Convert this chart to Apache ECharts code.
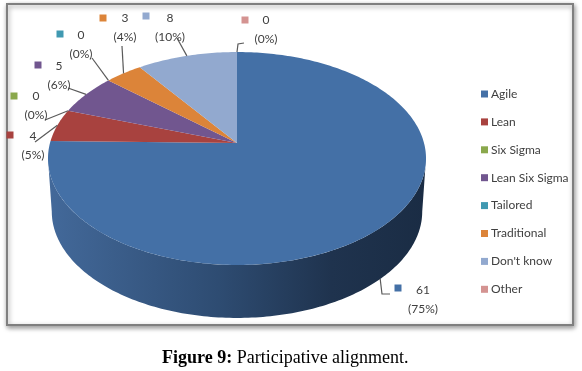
<!DOCTYPE html>
<html>
<head>
<meta charset="utf-8">
<style>
  html, body { margin: 0; padding: 0; background: #fff; }
  #main { width: 582px; height: 371px; filter: blur(0.35px); }
</style>
<script src="https://cdn.jsdelivr.net/npm/echarts@6/dist/echarts.min.js"></script>
</head>
<body>
<div id="main"></div>
<script>
// chart data
var categories = ['Agile', 'Lean', 'Six Sigma', 'Lean Six Sigma', 'Tailored', 'Traditional', "Don't know", 'Other'];
var values = [61, 4, 0, 5, 0, 3, 8, 0];
var colors = ['#4470A6', '#A8423F', '#8AA84C', '#71568F', '#4099B1', '#DC8439', '#92A9CF', '#D49391'];
var captionBold = 'Figure 9:';
var captionText = 'Participative alignment.';

// where each data label sits: [legend square x, y, text centre x, first line y]
var labelSpots = [
  [398, 288, 423, 290],
  [10, 135, 33, 136],
  [14, 96, 36, 96],
  [38, 65, 59, 66],
  [60, 34, 81, 35],
  [103, 18, 125, 18],
  [146, 16, 170, 18],
  [245, 20, 266, 20]
];
// leader line, after leaving the pie edge
var leaderEnds = [
  [[382, 294], [390, 294]],
  [[35, 142]],
  [[45, 120]],
  [[68, 88]],
  [[92, 58]],
  [[122, 46]],
  [[177, 38]],
  [[238, 44], [244, 43]]
];

// perspective of the tilted pie, image of the centre is not the ellipse centre
var pie = { x: 237, y: 143, a: 187, c: 104.2, b: 0.1455, depth: 53, shrink: 0.98 };

var total = 0;
for (var i = 0; i < values.length; i++) total += values[i];

// angle is clockwise from 12 o'clock, in degrees
function topPoint(deg) {
  var t = deg * Math.PI / 180;
  var u = Math.sin(t), v = Math.cos(t);
  var d = 1 + pie.b * v;
  return [pie.x + pie.a * u / d, pie.y - pie.c * v / d];
}
function bottomPoint(deg) {
  var p = topPoint(deg);
  return [pie.x + (p[0] - pie.x) * pie.shrink, p[1] + pie.depth];
}
function arc(from, to, fn) {
  var pts = [];
  var n = Math.max(2, Math.ceil(Math.abs(to - from)));
  for (var i = 0; i <= n; i++) pts.push(fn(from + (to - from) * i / n));
  return pts;
}

var frontSpan = Math.asin(pie.b) * 180 / Math.PI;
var frontFrom = 90 + frontSpan, frontTo = 270 - frontSpan;

function makeItem(index) {
  return function (params, api) {
    var before = 0;
    for (var i = 0; i < index; i++) before += values[i];
    var val = api.value(0);
    var start = before / total * 360;
    var end = (before + val) / total * 360;
    var mid = (start + end) / 2;
    var color = api.visual('color');
    var kids = [];

    // side wall, only the part that faces us
    var wallFrom = Math.max(start, frontFrom), wallTo = Math.min(end, frontTo);
    if (wallTo > wallFrom) {
      var wall = arc(wallFrom, wallTo, topPoint).concat(arc(wallTo, wallFrom, bottomPoint));
      kids.push({
        type: 'polygon', z2: 1,
        shape: { points: wall },
        style: {
          fill: new echarts.graphic.LinearGradient(0, 0, 1, 0, [
            { offset: 0, color: '#43699A' },
            { offset: 0.45, color: '#2E4C72' },
            { offset: 0.75, color: '#1F334E' },
            { offset: 1, color: '#1A2C44' }
          ])
        }
      });
    }

    // top face
    if (val > 0) {
      kids.push({
        type: 'polygon', z2: 2,
        shape: { points: [[pie.x, pie.y]].concat(arc(start, end, topPoint)) },
        style: { fill: color }
      });
    }

    // leader line
    var edge = (mid > frontFrom && mid < frontTo) ? bottomPoint(mid) : topPoint(mid);
    kids.push({
      type: 'polyline', z2: 3,
      shape: { points: [edge].concat(leaderEnds[index]) },
      style: { fill: null, stroke: '#5A5A5A', lineWidth: 1.2 }
    });

    // data label with its colour square
    var spot = labelSpots[index];
    kids.push({
      type: 'rect', z2: 4,
      shape: { x: spot[0] - 3.5, y: spot[1] - 3.5, width: 7, height: 7 },
      style: { fill: color }
    });
    kids.push({
      type: 'text', z2: 4,
      style: {
        x: spot[2], y: spot[3] - 9,
        text: val + '\n(' + Math.round(val / total * 100) + '%)',
        fill: '#404040',
        font: '12px Lato',
        lineHeight: 19,
        align: 'center',
        verticalAlign: 'top'
      }
    });
    return { type: 'group', children: kids };
  };
}

var series = [];
for (var k = 0; k < categories.length; k++) {
  series.push({
    name: categories[k],
    type: 'custom',
    coordinateSystem: 'none',
    silent: true,
    renderItem: makeItem(k),
    data: [[values[k]]]
  });
}

var chart = echarts.init(document.getElementById('main'), null, { renderer: 'canvas' });
var option = {
  animation: false,
  color: colors,
  title: {
    text: '{b|' + captionBold + '} {r|' + captionText + '}',
    left: 162,
    top: 349,
    padding: 0,
    textStyle: {
      fontWeight: 'normal',
      fontFamily: 'Liberation Serif',
      fontSize: 18,
      rich: {
        b: { fontFamily: 'Liberation Serif', fontSize: 18, fontWeight: 'bold', color: '#000' },
        r: { fontFamily: 'Liberation Serif', fontSize: 18, fontWeight: 'normal', color: '#000' }
      }
    }
  },
  legend: {
    orient: 'vertical',
    left: 481,
    top: 87,
    icon: 'rect',
    itemWidth: 7,
    itemHeight: 7,
    itemGap: 13.9,
    selectedMode: false,
    padding: 0,
    data: categories,
    textStyle: { fontFamily: 'Lato', fontSize: 12, color: '#404040', lineHeight: 14, padding: [0, 0, 0, -2] }
  },
  graphic: [{
    type: 'rect',
    z: 0,
    shape: { x: 7, y: 4, width: 566, height: 321 },
    style: {
      fill: '#fff',
      stroke: '#7F7F7F',
      lineWidth: 2,
      shadowBlur: 5,
      shadowOffsetX: 1,
      shadowOffsetY: 2,
      shadowColor: 'rgba(0,0,0,0.4)'
    }
  }],
  series: series
};
chart.setOption(option);
</script>
</body>
</html>
